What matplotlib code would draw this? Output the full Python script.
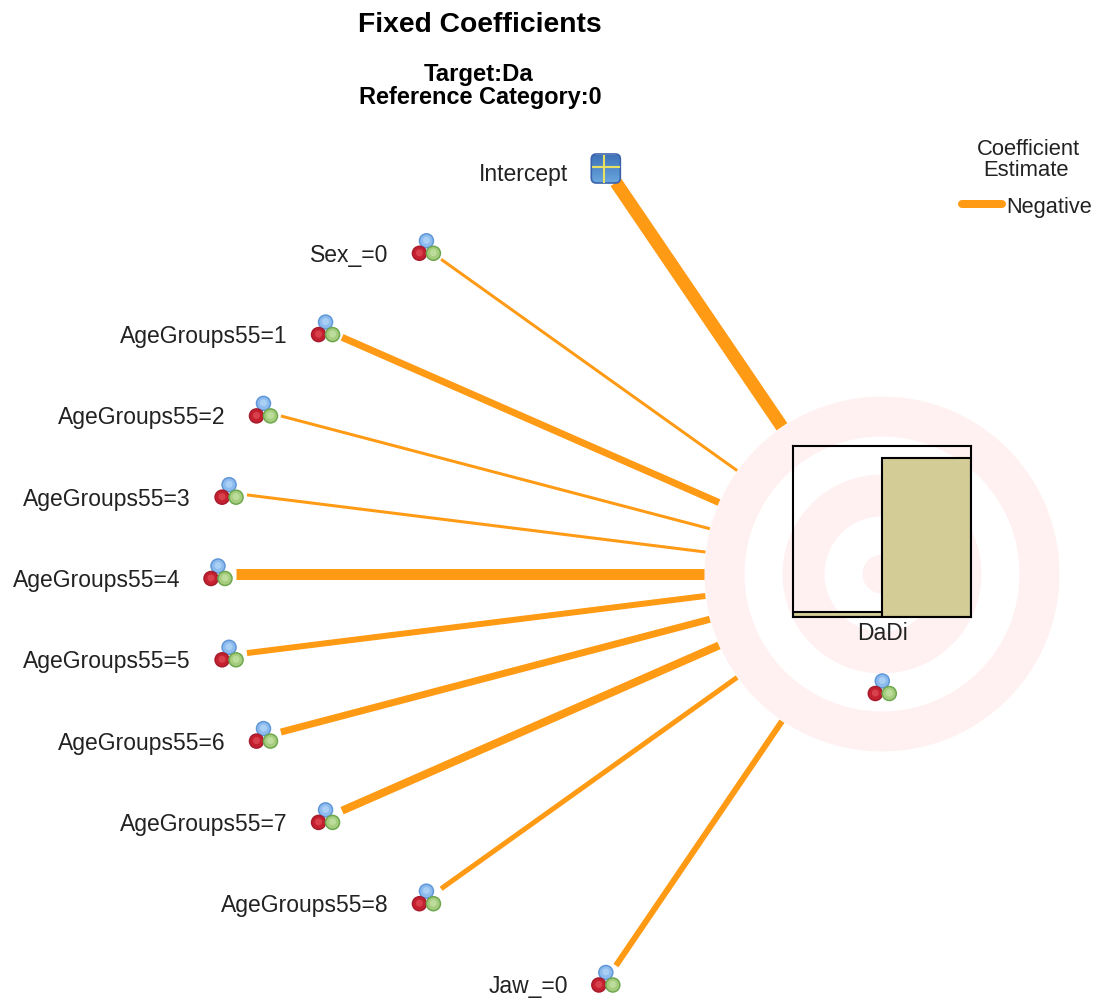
import numpy as np
import matplotlib
matplotlib.use('Agg')
import matplotlib.pyplot as plt
from matplotlib.patches import Circle, FancyBboxPatch

plt.rcParams['font.family'] = ['Liberation Sans', 'DejaVu Sans']

node_labels = ['Intercept', 'Sex_=0', 'AgeGroups55=1', 'AgeGroups55=2', 'AgeGroups55=3', 'AgeGroups55=4',
               'AgeGroups55=5', 'AgeGroups55=6', 'AgeGroups55=7', 'AgeGroups55=8', 'Jaw_=0']
# line thickness stands for coefficient size (px in the picture)
coef_size = [13, 3, 7, 3, 3, 11, 6, 7, 8, 5, 6]
bar_categories = ['Da', 'Di']
bar_values = [0.03, 0.93]

W, H = 1108, 1006
ORANGE = '#ff9a14'
PINK = '#fff1f1'
cx, cy = 882, 574
step_y = 81.3
ell_a, ell_b = 664, 447

fig = plt.figure(figsize=(W / 100, H / 100), dpi=100)
ax = fig.add_axes([0, 0, 1, 1])
ax.axis('off')


def px(v):
    return v * 0.72


def molecule(x, y):
    # blue, red and green balls
    for dx, dy, c, e, h in [(0, -8, '#8dbbee', '#5f97d8', '#a9cff5'),
                            (-7, 4.5, '#c5202f', '#a61c2c', '#d8404c'),
                            (7, 4.5, '#a5cd7d', '#6ea74f', '#bcdc9c')]:
        ax.add_patch(Circle((x + dx, y + dy), 7, fc=c, ec=e, lw=1.1, zorder=5))
        ax.add_patch(Circle((x + dx, y + dy - 0.5), 3.5, fc=h, ec='none', zorder=6))


# target rings
for r, c in zip([177.5, 137.5, 99.5, 57.5, 19.5], [PINK, 'white', PINK, 'white', PINK]):
    ax.add_patch(Circle((cx, cy), r, fc=c, ec='none', zorder=1))

n = len(node_labels)
for i, (lab, size) in enumerate(zip(node_labels, coef_size)):
    k = i - (n - 1) / 2
    y = cy + k * step_y
    x = cx - ell_a * np.sqrt(1 - (k * step_y / ell_b) ** 2)
    d = np.hypot(cx - x, cy - y)
    ux, uy = (cx - x) / d, (cy - y) / d
    ax.plot([x + ux * 18, cx - ux * 178], [y + uy * 18, cy - uy * 178], color=ORANGE,
            lw=px(size), solid_capstyle='butt', zorder=3)
    ax.text(x - 38, y + 6.5, lab, ha='right', va='center', fontsize=16.5, color='#222222')
    if lab == 'Intercept':
        box = FancyBboxPatch((x - 11.5, y - 10.5), 23, 23, boxstyle='round,pad=3,rounding_size=5',
                             fc='none', ec='#3a62ac', lw=1.2, zorder=6)
        ax.add_patch(box)
        im = ax.imshow(np.linspace(0, 1, 30).reshape(-1, 1), cmap=matplotlib.colors.LinearSegmentedColormap.from_list(
            'b', ['#3f74b8', '#6aa6de']), extent=(x - 14, x + 14, y + 15, y - 13), aspect='auto', zorder=5)
        im.set_clip_path(box)
        ax.plot([x - 13, x + 13], [y - 1, y - 1], color='#e8e060', lw=1.5, zorder=7)
        ax.plot([x - 2, x - 2], [y - 12, y + 14], color='#e8e060', lw=1.5, zorder=7)
    else:
        molecule(x, y)

molecule(882.3, 689)
ax.text(882.5, 633, 'DaDi', ha='center', va='center', fontsize=16.5, color='#222222')

ax.text(480, 25, 'Fixed Coefficients', ha='center', va='center', fontsize=20.3, weight='bold', color='black')
ax.text(479, 74, 'Target:Da', ha='center', va='center', fontsize=17.2, weight='bold', color='black')
ax.text(480, 97, 'Reference Category:0', ha='center', va='center', fontsize=16.9, weight='bold', color='black')

ax.text(1028, 149, 'Coefficient', ha='center', va='center', fontsize=15.8, color='#222222')
ax.text(1026, 170, 'Estimate', ha='center', va='center', fontsize=15.8, color='#222222')
ax.plot([962, 1002], [204, 204], color=ORANGE, lw=px(8), solid_capstyle='round', zorder=3)
ax.text(1006, 207, 'Negative', ha='left', va='center', fontsize=15.7, color='#222222')

ax.set_xlim(0, W)
ax.set_ylim(H, 0)

# bar panel in the target node, see-through so the rings show
left, right, top, bottom = 792.5, 971, 446, 617
bx = fig.add_axes([left / W, 1 - bottom / H, (right - left) / W, (bottom - top) / H])
bx.patch.set_alpha(0)
bx.bar(bar_categories, bar_values, width=1, color='#d3cc96', edgecolor='black', linewidth=1.5)
bx.set_xlim(-0.5, 1.5)
bx.set_ylim(0, 1)
bx.set_xticks([])
bx.set_yticks([])
for s in bx.spines.values():
    s.set_linewidth(1.5)

plt.savefig('out.png', dpi=100)
